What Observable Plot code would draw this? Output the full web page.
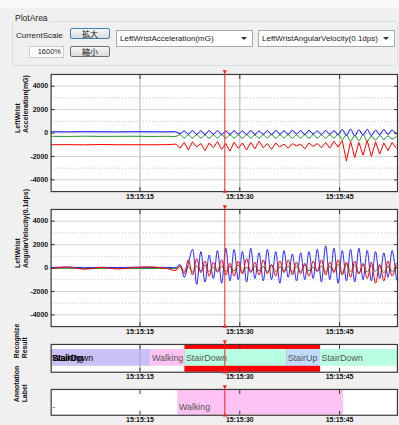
<!DOCTYPE html>
<html><head><meta charset="utf-8">
<script src="https://cdn.jsdelivr.net/npm/d3@7"></script>
<script src="https://cdn.jsdelivr.net/npm/@observablehq/plot@0.6"></script>
<style>
html,body{margin:0;padding:0;}
body{width:399px;height:425px;overflow:hidden;position:relative;background:#f0f0f0;font-family:"Liberation Sans",Arial,sans-serif;}
.abs{position:absolute;box-sizing:border-box;}
.strip{left:0;top:0;width:399px;height:8px;background:#f9f9f9;}
.group{left:12px;top:21px;width:386px;height:45px;border:1px solid #d5dfe5;border-radius:3px;}
.legend{left:13px;top:13px;font-size:8.5px;color:#222;padding:0 2px;background:#f0f0f0;line-height:10px;}
.lbl{font-size:8px;color:#222;line-height:10px;}
.btn{height:11px;width:40px;border:1px solid #707070;border-radius:2px;background:linear-gradient(#f6f6f6,#dcdcdc);font-family:"Noto Sans CJK JP",sans-serif;font-size:8px;line-height:9px;text-align:center;color:#111;}
.btn.def{border-color:#3c7fb1;}
.tb{left:29px;top:46px;width:35px;height:12px;background:#fff;border:1px solid #c8ccd2;font-size:7.5px;line-height:10px;text-align:right;padding-right:2px;color:#222;}
.sel{top:30px;width:137px;height:17px;background:#fff;border:1px solid #a9a9a9;font-size:8px;line-height:15px;padding-left:3px;color:#222;}
.arrow{position:absolute;right:5px;top:6px;width:0;height:0;border-left:3px solid transparent;border-right:3px solid transparent;border-top:3px solid #333;}
.panel{position:absolute;left:0;}
</style></head>
<body>
<div class="abs strip"></div>
<div class="abs group"></div>
<div class="abs legend">PlotArea</div>
<div class="abs lbl" style="left:16px;top:31px;">CurrentScale</div>
<div class="abs btn def" style="left:70px;top:28px;">拡大</div>
<div class="abs tb">1600%</div>
<div class="abs btn" style="left:70px;top:46px;">縮小</div>
<div class="abs sel" style="left:116px;">LeftWristAcceleration(mG)<span class="arrow"></span></div>
<div class="abs sel" style="left:258px;">LeftWristAngularVelocity(0.1dps)<span class="arrow"></span></div>
<div id="p1" class="panel" style="top:70px"></div>
<div id="p2" class="panel" style="top:205px"></div>
<div id="p3" class="panel" style="top:340px"></div>
<div id="p4" class="panel" style="top:385px"></div>
<script>
// ---------- data ----------
const xTickLabels = ["15:15:15", "15:15:30", "15:15:45"];
const viewStart = "15:15:01.65";
const viewEnd = "15:15:53.70";
const cursorTime = "15:15:27.75";
const yMajorTicks = [-4000, -2000, 0, 2000, 4000];
const yMinorTicks = [-3000, -1000, 1000, 3000];
const yRange = [-5000, 5000];

// sample times: sparse samples while standing still, then a fixed sampling step while moving
const quietTimes = ["15:15:01.65","15:15:04.15","15:15:06.65","15:15:09.15","15:15:11.65","15:15:14.15","15:15:16.65","15:15:19.15"];
const activeStart = "15:15:20.40";
const activeStepSec = 0.625;

// LeftWrist Acceleration (mG)
const accBlue = [110,100,115,105,100,110,105,100,
  100,-50,180,-100,200,-120,190,-130,210,-110,200,-140,180,-120,200,-100,190,-130,210,-120,180,-110,200,-140,
  220,-100,190,-120,230,-90,200,-130,220,-80,180,-120,210,-100,200,-150,300,-200,330,-250,280,-180,320,-230,260,-150,300,-120,250,-100];
const accGreen = [-280,-290,-270,-285,-280,-275,-290,-280,
  -280,-150,-420,-160,-440,-140,-430,-170,-450,-150,-420,-130,-440,-160,-430,-150,-460,-140,-420,-170,-440,-150,-430,-120,
  -450,-160,-420,-140,-440,-170,-430,-150,-450,-130,-420,-160,-440,-150,-430,-100,-550,-150,-700,-200,-650,-120,-720,-250,-600,-200,-550,-250,-500,-300];
const accRed = [-1000,-990,-1010,-980,-1000,-995,-1005,-990,
  -950,-1300,-800,-1450,-750,-1200,-900,-1500,-850,-1250,-720,-1400,-900,-1550,-780,-1300,-850,-1450,-800,-1350,-700,-1250,-900,-1400,
  -850,-1200,-950,-1300,-900,-1100,-950,-1350,-850,-1150,-900,-1250,-800,-1300,-700,-1200,-650,-2400,-700,-2100,-800,-1900,-650,-2000,-750,-1800,-850,-1500,-800,-1300];

// LeftWrist Angular Velocity (0.1 dps)
const avBlue = [50,80,30,60,40,70,50,60,
  50,300,-800,400,1600,-1400,1400,-1200,1100,-900,1500,-1300,1700,-1100,1600,-1000,1400,-1200,1700,-900,1300,-1100,1600,-1000,
  1400,-1300,1500,-800,1200,-1100,1300,-1000,1400,-900,1600,-1200,1900,-1000,1700,-1300,1500,-1100,1600,-1200,1700,-1000,1500,-1100,1400,-900,1300,-800,1500,-1000];
const avRed = [-50,80,-100,50,-80,40,100,-60,
  -200,200,-500,700,-600,800,-400,600,-700,500,-300,700,-600,400,-700,600,-500,800,-400,500,-600,700,-500,300,
  -700,600,-400,700,-600,500,-500,400,-700,600,-300,700,-600,500,-400,700,-600,500,-800,600,-500,400,-900,500,-1300,300,-1100,600,-700,400];
const avGreen = [-30,-20,-40,-30,-20,-30,-40,-30,
  -50,100,-300,150,-350,200,-250,250,-300,100,-350,200,-300,150,-250,250,-350,100,-300,200,-250,150,-350,250,
  -300,100,-250,200,-350,150,-300,250,-250,100,-300,200,-350,150,-250,300,-400,350,-300,250,-450,300,-350,200,-300,250,-400,150,-300,100];

// Recognize result
const recogStarts = ["15:15:01.65","15:15:16.65","15:15:21.75","15:15:37.05","15:15:42.15"];
const recogEnds   = ["15:15:16.65","15:15:21.75","15:15:37.05","15:15:42.15","15:15:53.70"];
const recogClasses = ["Unknown","Walking","StairDown","StairUp","StairDown"];
const recogOverlapLabels = ["StairDown","Walking","StairUp"];
const mismatchStarts = ["15:15:21.75"];
const mismatchEnds = ["15:15:42.15"];

// Annotation label
const annoStarts = ["15:15:01.65","15:15:20.70"];
const annoEnds   = ["15:15:20.70","15:15:45.60"];
const annoLabels = ["-","Walking"];

// ---------- helpers ----------
const baseSec = 15*3600 + 15*60;
const toSec = s => { const [h,m,x] = s.split(":").map(Number); return h*3600 + m*60 + x - baseSec; };
const xDomain = [toSec(viewStart), toSec(viewEnd)];
const xTicks = xTickLabels.map(toSec);
const fmtX = v => xTickLabels[xTicks.indexOf(v)] ?? "";
const fmtY = v => String(v);
const cursor = toSec(cursorTime);

const sampleTimes = quietTimes.map(toSec);
const a0 = toSec(activeStart);
const nActive = accBlue.length - quietTimes.length;
for (let i = 0; i < nActive; i++) sampleTimes.push(a0 + i*activeStepSec);
const toRows = vals => vals.map((v,i) => ({t: sampleTimes[i], v}));

const W = 402, ML = 51, MR = 2;
const FONT = "'Liberation Sans', Arial, sans-serif";

function gridXMarks() {
  return [Plot.gridX(xTicks, {stroke: "#c8c8c8", strokeOpacity: 1, strokeWidth: 1.5})];
}
function xAxes() {
  return [
    Plot.axisX({ticks: xTicks, anchor: "bottom", tickSize: -4, text: null, stroke: "#333", label: null}),
    Plot.axisX({ticks: xTicks, anchor: "top", tickSize: -4, text: null, stroke: "#333", label: null}),
    Plot.axisX({ticks: xTicks, anchor: "bottom", tickSize: 0, tickPadding: 2, tickFormat: fmtX, fontWeight: "bold", fontSize: 7, fill: "#111", label: null})
  ];
}
function frameLines() {
  return Plot.frame({stroke: "#3a3a3a", strokeWidth: 1.2});
}
function cursorMarks() {
  return [
    Plot.ruleX([cursor], {stroke: "#ff2020", strokeWidth: 1, insetTop: -3, insetBottom: -1}),
    Plot.dot([cursor], {x: d => d, frameAnchor: "top", dy: -3, symbol: "triangle", rotate: 180, r: 1.6, fill: "#ff2020", stroke: null}),
    Plot.dot([cursor], {x: d => d, frameAnchor: "bottom", dy: 0, symbol: "triangle", r: 1.6, fill: "#ff2020", stroke: null})
  ];
}
function yTitle(text, dx) {
  return Plot.text([text], {text: d => d, frameAnchor: "left", rotate: -90, dx, lineHeight: 1.15, fontSize: 7, fontWeight: "bold", fill: "#111"});
}

function signalPanel(el, title, series) {
  const plot = Plot.plot({
    width: W, height: 135, marginLeft: ML, marginRight: MR, marginTop: 4, marginBottom: 13,
    style: {background: "transparent", fontFamily: FONT, fontSize: "7px", overflow: "visible"},
    x: {domain: xDomain, axis: null},
    y: {domain: yRange, axis: null},
    marks: [
      Plot.frame({fill: "white", stroke: null}),
      Plot.gridY(yMinorTicks, {stroke: "#bdbdbd", strokeOpacity: 1, strokeDasharray: "1,2"}),
      Plot.gridY(yMajorTicks, {stroke: "#d2d2d2", strokeOpacity: 1}),
      ...gridXMarks(),
      ...series.map(s => Plot.line(toRows(s.values), {x: "t", y: "v", stroke: s.color, strokeWidth: 1, curve: s.curve, clip: true})),
      Plot.axisY({ticks: yMajorTicks, anchor: "left", tickSize: -4, text: null, stroke: "#333", label: null}),
      Plot.axisY({ticks: yMajorTicks, anchor: "right", tickSize: -4, text: null, stroke: "#333", label: null}),
      Plot.axisY({ticks: yMajorTicks, anchor: "left", tickSize: 0, tickPadding: 3, tickFormat: fmtY, fontWeight: "bold", fontSize: 7, fill: "#111", label: null}),
      ...xAxes(),
      frameLines(),
      ...cursorMarks(),
      yTitle(title, -30)
    ]
  });
  document.getElementById(el).appendChild(plot);
}

signalPanel("p1", "LeftWrist\nAcceleration(mG)", [
  {values: accGreen, color: "#1f8a1f", curve: "catmull-rom"},
  {values: accBlue, color: "#0000ff", curve: "catmull-rom"},
  {values: accRed, color: "#ff0000", curve: "linear"}
]);
signalPanel("p2", "LeftWrist\nAngularVelocity(0.1dps)", [
  {values: avGreen, color: "#1f8a1f", curve: "catmull-rom"},
  {values: avBlue, color: "#2222ff", curve: "catmull-rom"},
  {values: avRed, color: "#ff0000", curve: "catmull-rom"}
]);

// Recognize panel
const recogRows = recogStarts.map((s,i) => ({start: toSec(s), end: toSec(recogEnds[i]), cls: recogClasses[i]}));
const mismatchRows = mismatchStarts.map((s,i) => ({start: toSec(s), end: toSec(mismatchEnds[i])}));
const classColor = {domain: ["Unknown","Walking","StairDown","StairUp","-"], range: ["#c9c1f7","#ffc3f3","#b9ffe1","#c1dcff","#ffffff"]};

const p3 = Plot.plot({
  width: W, height: 44, marginLeft: ML, marginRight: MR, marginTop: 4, marginBottom: 12,
  style: {background: "transparent", fontFamily: FONT, fontSize: "7px", overflow: "visible"},
  x: {domain: xDomain, axis: null},
  color: classColor,
  marks: [
    Plot.frame({fill: "white", stroke: null}),
    Plot.rect(mismatchRows, {x1: "start", x2: "end", fill: "#ff0000"}),
    Plot.rect(recogRows, {x1: "start", x2: "end", fill: "cls", insetTop: 5, insetBottom: 6}),
    Plot.gridX(xTicks.slice(0,1), {stroke: "#a8a8a8", strokeOpacity: 0.8, strokeWidth: 1.2}),
    Plot.text(recogRows.filter(d => d.cls !== "Unknown"), {x: "start", text: "cls", textAnchor: "start", dx: 1, fontSize: 9, fill: "#555", clip: true}),
    Plot.text(recogOverlapLabels, {x: () => recogRows[0].start, text: d => d, textAnchor: "start", dx: 1, fontSize: 9, fill: "#000"}),
    ...xAxes(),
    frameLines(),
    ...cursorMarks(),
    yTitle("Recognize\nResult", -31)
  ]
});
document.getElementById("p3").appendChild(p3);

// Annotation panel
const annoRows = annoStarts.map((s,i) => ({start: toSec(s), end: toSec(annoEnds[i]), label: annoLabels[i]}));
const p4 = Plot.plot({
  width: W, height: 42, marginLeft: ML, marginRight: MR, marginTop: 4, marginBottom: 12,
  style: {background: "transparent", fontFamily: FONT, fontSize: "7px", overflow: "visible"},
  x: {domain: xDomain, axis: null},
  color: classColor,
  marks: [
    Plot.frame({fill: "white", stroke: null}),
    ...gridXMarks(),
    Plot.rect(annoRows, {x1: "start", x2: "end", fill: "label"}),
    Plot.text(annoRows, {x: "start", text: "label", textAnchor: "start", dx: 1, dy: 5, fontSize: 9, fill: "#555"}),
    ...xAxes(),
    frameLines(),
    ...cursorMarks(),
    yTitle("Annotation\nLabel", -31)
  ]
});
document.getElementById("p4").appendChild(p4);
</script>
</body></html>
